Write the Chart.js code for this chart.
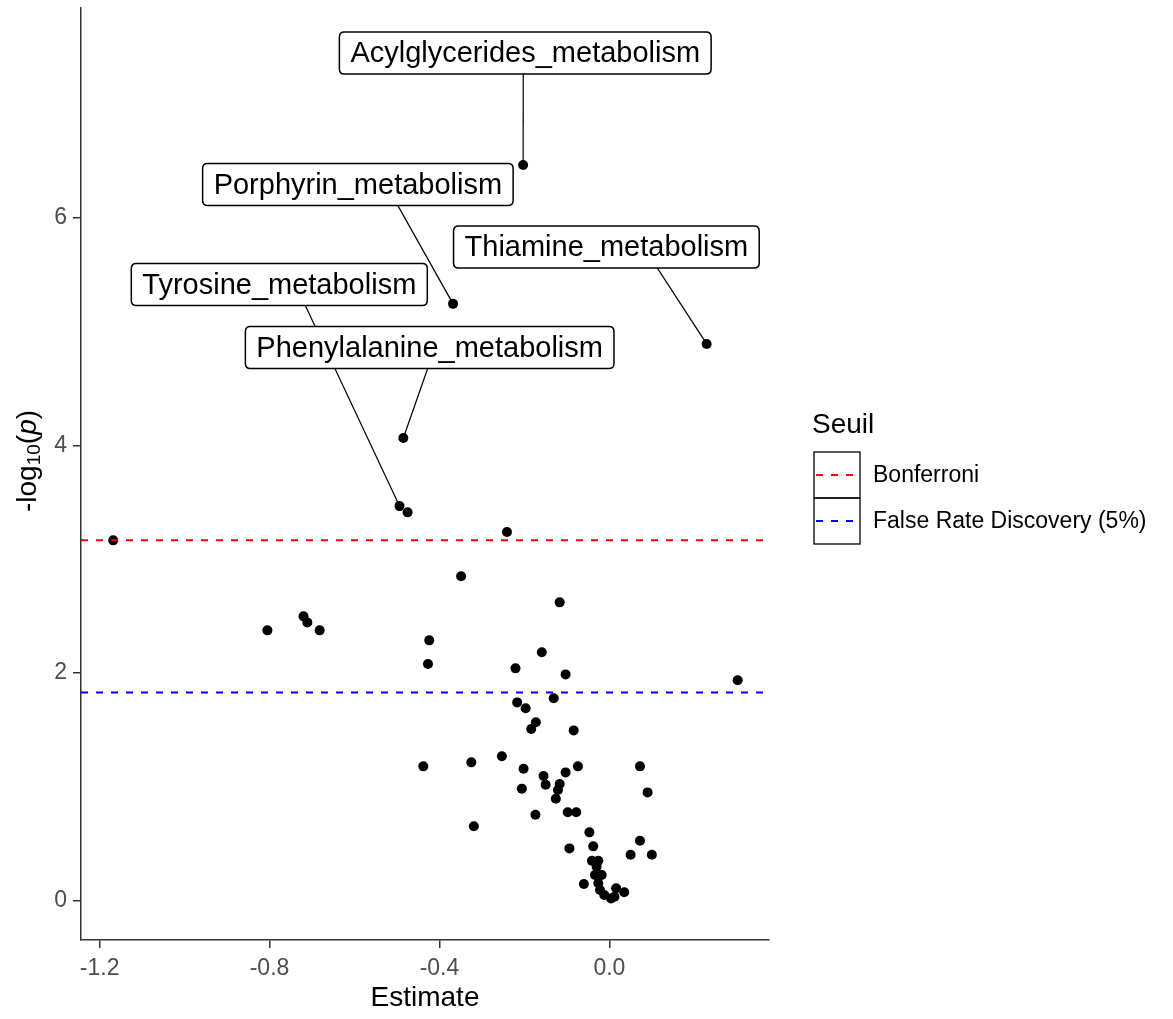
<!DOCTYPE html>
<html>
<head>
<meta charset="utf-8">
<script src="https://cdn.jsdelivr.net/npm/chart.js@4.4.1/dist/chart.umd.min.js"></script>
<style>
  html, body { margin: 0; padding: 0; background: #fff; }
  #wrap { width: 1173px; height: 1019px; }
</style>
</head>
<body>
<div id="wrap"><canvas id="volcano" width="1173" height="1019"></canvas></div>
<script>
// axis ranges and ticks
const xRange = [-1.2438, 0.3758];
const yRange = [-0.345, 7.845];
const xTicks = [-1.2, -0.8, -0.4, 0.0];
const xTickLabels = ['-1.2', '-0.8', '-0.4', '0.0'];
const yTicks = [0, 2, 4, 6];
const yTickLabels = ['0', '2', '4', '6'];

// thresholds (dashed lines)
const thresholdNames = ['Bonferroni', 'False Rate Discovery (5%)'];
const thresholdValues = [3.167, 1.831];

// labelled pathways
const labeledNames = ['Acylglycerides_metabolism', 'Porphyrin_metabolism', 'Thiamine_metabolism',
  'Tyrosine_metabolism', 'Phenylalanine_metabolism'];
const labeledEstimate = [-0.203, -0.368, 0.229, -0.494, -0.485];
const labeledLogP = [6.465, 5.245, 4.893, 3.468, 4.066];

// all other pathways
const estimate = [-1.168, -0.241, -0.475, -0.805, -0.720, -0.711, -0.682, -0.424, -0.427, -0.349,
  -0.117, -0.159, -0.221, -0.103, 0.302, -0.131, -0.217, -0.197, -0.173, -0.184,
  -0.084, -0.253, -0.438, -0.325, -0.202, -0.074, -0.103, 0.072, -0.155, -0.150,
  -0.117, -0.121, -0.126, -0.206, 0.090, -0.174, -0.098, -0.078, -0.319, -0.047,
  0.072, -0.094, -0.038, 0.050, 0.100, -0.041, -0.026, -0.030, -0.034, -0.018,
  -0.060, -0.026, -0.022, 0.016, 0.035, -0.012, 0.004, 0.012];
const logP = [3.167, 3.240, 3.413, 2.376, 2.499, 2.446, 2.376, 2.288, 2.080, 2.851,
  2.622, 2.183, 2.042, 1.989, 1.937, 1.779, 1.743, 1.691, 1.568, 1.509,
  1.497, 1.269, 1.181, 1.216, 1.160, 1.181, 1.128, 1.181, 1.096, 1.020,
  1.026, 0.973, 0.897, 0.985, 0.952, 0.756, 0.777, 0.777, 0.654, 0.601,
  0.527, 0.460, 0.478, 0.404, 0.404, 0.351, 0.351, 0.299, 0.226, 0.226,
  0.147, 0.153, 0.094, 0.109, 0.074, 0.050, 0.020, 0.035];

const FONT = "'Liberation Sans', Arial, sans-serif";
const thresholdColors = ['#FF0000', '#0000FF'];

// where the repelled labels sit (box centre, data units) and where the segment leaves the box (px from centre)
const labelPlacement = [
  { x: -0.198, y: 7.449, seg: -2 },
  { x: -0.592, y: 6.293, seg: 40 },
  { x: -0.007, y: 5.744, seg: 51 },
  { x: -0.777, y: 5.415, seg: 26 },
  { x: -0.423, y: 4.861, seg: -2 }
];

function roundBox(ctx, x, y, w, h, r) {
  ctx.beginPath();
  ctx.moveTo(x + r, y);
  ctx.lineTo(x + w - r, y);
  ctx.quadraticCurveTo(x + w, y, x + w, y + r);
  ctx.lineTo(x + w, y + h - r);
  ctx.quadraticCurveTo(x + w, y + h, x + w - r, y + h);
  ctx.lineTo(x + r, y + h);
  ctx.quadraticCurveTo(x, y + h, x, y + h - r);
  ctx.lineTo(x, y + r);
  ctx.quadraticCurveTo(x, y, x + r, y);
  ctx.closePath();
}

const decorations = {
  id: 'decorations',
  afterDraw(chart) {
    const { ctx, scales: { x, y }, chartArea } = chart;
    ctx.save();

    // repel labels: segments first, boxes on top
    ctx.font = '29px ' + FONT;
    const boxes = labeledNames.map((name, i) => {
      const w = ctx.measureText(name).width + 22;
      const h = 42;
      const cx = x.getPixelForValue(labelPlacement[i].x);
      const cy = y.getPixelForValue(labelPlacement[i].y);
      return { name, w, h, cx, cy, px: x.getPixelForValue(labeledEstimate[i]), py: y.getPixelForValue(labeledLogP[i]), seg: labelPlacement[i].seg };
    });
    ctx.strokeStyle = '#000';
    ctx.lineWidth = 1.2;
    boxes.forEach(b => {
      ctx.beginPath();
      ctx.moveTo(b.cx + b.seg, b.cy + b.h / 2);
      ctx.lineTo(b.px, b.py);
      ctx.stroke();
    });
    boxes.forEach(b => {
      roundBox(ctx, b.cx - b.w / 2, b.cy - b.h / 2, b.w, b.h, 5);
      ctx.fillStyle = '#fff';
      ctx.fill();
      ctx.lineWidth = 1.5;
      ctx.stroke();
      ctx.fillStyle = '#000';
      ctx.textAlign = 'center';
      ctx.textBaseline = 'middle';
      ctx.fillText(b.name, b.cx, b.cy + 1);
    });

    // x title
    ctx.fillStyle = '#000';
    ctx.font = '28px ' + FONT;
    ctx.textAlign = 'center';
    ctx.textBaseline = 'middle';
    ctx.fillText('Estimate', (chartArea.left + chartArea.right) / 2, 998);

    // y title: -log10(p)
    ctx.save();
    ctx.translate(28, 461);
    ctx.rotate(-Math.PI / 2);
    ctx.textAlign = 'left';
    ctx.textBaseline = 'middle';
    const parts = [
      { t: '-log', f: '28px ' + FONT, dy: 0 },
      { t: '10', f: '19px ' + FONT, dy: 7 },
      { t: '(', f: '28px ' + FONT, dy: 0 },
      { t: 'p', f: 'italic 28px ' + FONT, dy: 0 },
      { t: ')', f: '28px ' + FONT, dy: 0 }
    ];
    let total = 0;
    parts.forEach(p => { ctx.font = p.f; p.w = ctx.measureText(p.t).width; total += p.w; });
    let cur = -total / 2;
    parts.forEach(p => { ctx.font = p.f; ctx.fillText(p.t, cur, p.dy); cur += p.w; });
    ctx.restore();

    // legend
    ctx.font = '28px ' + FONT;
    ctx.textAlign = 'left';
    ctx.textBaseline = 'middle';
    ctx.fillStyle = '#000';
    ctx.fillText('Seuil', 812, 425);
    const keyX = 814, keyY = 452, keyS = 46;
    thresholdNames.forEach((name, i) => {
      const top = keyY + i * keyS;
      ctx.lineWidth = 1.3;
      ctx.strokeStyle = '#000';
      ctx.setLineDash([]);
      ctx.strokeRect(keyX, top, keyS, keyS);
      ctx.strokeStyle = thresholdColors[i];
      ctx.lineWidth = 2;
      ctx.setLineDash([7, 8]);
      ctx.beginPath();
      ctx.moveTo(keyX + 2, top + keyS / 2);
      ctx.lineTo(keyX + keyS, top + keyS / 2);
      ctx.stroke();
      ctx.setLineDash([]);
      ctx.fillStyle = '#000';
      ctx.font = '23px ' + FONT;
      ctx.fillText(name, 873, top + keyS / 2 + 1);
    });

    ctx.restore();
  }
};

const thresholdSets = thresholdNames.map((name, i) => ({
  type: 'line',
  label: name,
  data: [{ x: xRange[0], y: thresholdValues[i] }, { x: xRange[1], y: thresholdValues[i] }],
  borderColor: thresholdColors[i],
  borderDash: [7, 8],
  borderWidth: 2,
  pointRadius: 0,
  fill: false
}));

const pointSet = {
  type: 'scatter',
  label: 'pathways',
  data: estimate.map((v, i) => ({ x: v, y: logP[i] }))
    .concat(labeledEstimate.map((v, i) => ({ x: v, y: labeledLogP[i] }))),
  backgroundColor: '#000',
  borderWidth: 0,
  pointRadius: 5
};

const axisStyle = {
  border: { display: true, color: '#333333', width: 1.5 },
  grid: { display: true, drawOnChartArea: false, drawTicks: true, tickLength: 8, color: '#333333', lineWidth: 1.5 }
};

new Chart(document.getElementById('volcano').getContext('2d'), {
  type: 'scatter',
  data: { datasets: [...thresholdSets, pointSet] },
  options: {
    responsive: false,
    animation: false,
    events: [],
    layout: { padding: { top: 8, right: 404, bottom: 0, left: 0 } },
    plugins: { legend: { display: false }, tooltip: { enabled: false } },
    scales: {
      x: {
        type: 'linear',
        min: xRange[0],
        max: xRange[1],
        ...axisStyle,
        afterBuildTicks: s => { s.ticks = xTicks.map(v => ({ value: v })); },
        afterFit: s => { s.height = 79; s.paddingLeft = 0; s.paddingRight = 0; },
        ticks: {
          color: '#4D4D4D',
          font: { family: FONT, size: 23 },
          padding: 7,
          callback: (v, i) => xTickLabels[i]
        }
      },
      y: {
        type: 'linear',
        min: yRange[0],
        max: yRange[1],
        ...axisStyle,
        afterBuildTicks: s => { s.ticks = yTicks.map(v => ({ value: v })); },
        afterFit: s => { s.width = 81; s.paddingTop = 0; s.paddingBottom = 0; },
        ticks: {
          color: '#4D4D4D',
          font: { family: FONT, size: 23 },
          padding: 6,
          callback: (v, i) => yTickLabels[i]
        }
      }
    }
  },
  plugins: [decorations]
});
</script>
</body>
</html>
